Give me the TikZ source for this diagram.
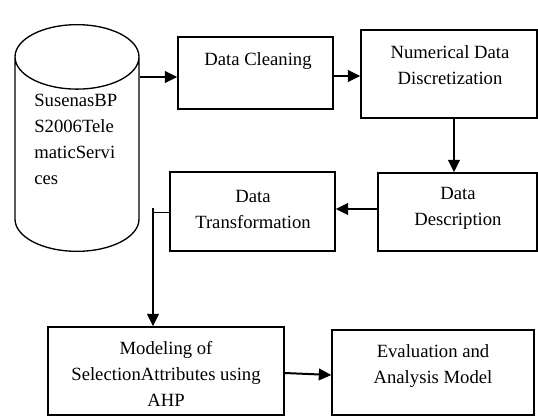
\documentclass[tikz,border=0pt]{standalone}
\usepackage{fontspec}
\setmainfont{Liberation Serif}
\usetikzlibrary{arrows.meta, positioning, shapes.geometric}

\tikzset{
  box/.style={draw, rectangle, line width=0.8pt},
  txt/.style={align=center, inner sep=0pt, font=\fontsize{11.2}{15.6}\selectfont},
  flow/.style={->, >={Triangle[length=7.5pt,width=7pt]}, line width=1.2pt},
}

\begin{document}
\begin{tikzpicture}[x=0.6pt,y=-0.6pt]
        \useasboundingbox (0,0) rectangle (538,416);
        % boxes
        \node[draw,cylinder,shape border rotate=90,aspect=5.8,line width=0.8pt,minimum width=74.4pt,minimum height=136pt,anchor=shape center] (db) at (77,138) {};
        \node[box,minimum width=93pt,minimum height=43.2pt] (clean) at (255.5,73) {};
        \node[box,minimum width=105.6pt,minimum height=52.8pt] (ndd) at (449,74) {};
        \node[box,minimum width=95.4pt,minimum height=46.8pt] (desc) at (457.5,212) {};
        \node[box,minimum width=99pt,minimum height=47.4pt] (trans) at (252.5,211.5) {};
        \node[box,minimum width=141.6pt,minimum height=52.8pt] (model) at (166,371) {};
        \node[box,minimum width=121.2pt,minimum height=51pt] (eval) at (433,372.5) {};
        % texts
        \node[txt,align=left,anchor=west] (dbtxt) at (34,139) {SusenasBP\\S2006Tele\\maticServi\\ces};
        \node[txt] (cleantxt) at (258,61) {Data Cleaning};
        \node[txt] (nddtxt) at (450,65) {Numerical Data\\Discretization};
        \node[txt] (desctxt) at (458,208) {Data\\Description};
        \node[txt] (transtxt) at (253,209) {Data\\Transformation};
        \node[txt] (modeltxt) at (166,374) {Modeling of\\SelectionAttributes using\\AHP};
        \node[txt] (evaltxt) at (433,366) {Evaluation and\\Analysis Model};
        % connectors
        \coordinate (tick) at (153,212);
        \coordinate (ticktop) at (153,208);
        \draw[flow] (db.east |- 0,77) -- (clean.west |- 0,77);
        \draw[flow] (clean.east |- 0,76) -- (ndd.west |- 0,76);
        \draw[flow] ([xshift=3pt]ndd.south) -- ([xshift=3pt]ndd.south |- desc.north);
        \draw[flow] (desc.west |- 0,209) -- (trans.east |- 0,209);
        \draw[line width=0.6pt] (trans.west |- tick) -- (tick);
        \draw[flow] (ticktop) -- (ticktop |- model.north);
        \draw[flow] (model.east |- 0,373) -- (eval.west |- 0,375);
\end{tikzpicture}
\end{document}
